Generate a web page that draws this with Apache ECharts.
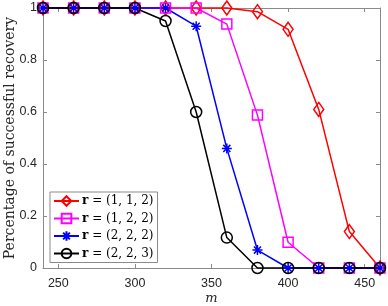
<!DOCTYPE html>
<html><head><meta charset="utf-8">
<script src="https://cdn.jsdelivr.net/npm/echarts@6/dist/echarts.min.js"></script>
<style>html,body{margin:0;padding:0;background:#fff}#c{width:388px;height:306px}</style>
</head><body><div id="c"></div>
<script>
const mValues = [240, 260, 280, 300, 320, 340, 360, 380, 400, 420, 440, 460];
const seriesNames = ['(1, 1, 2)', '(1, 2, 2)', '(2, 2, 2)', '(2, 2, 3)'];
const r112 = [1, 1, 1, 1, 1, 1, 1, 0.986, 0.918, 0.61, 0.14, 0];
const r122 = [1, 1, 1, 1, 1, 1, 0.938, 0.588, 0.099, 0, 0, 0];
const r222 = [1, 1, 1, 1, 1, 0.93, 0.46, 0.069, 0, 0, 0, 0];
const r223 = [1, 1, 1, 1, 0.95, 0.6, 0.117, 0, 0, 0, 0, 0];
const xTicks = [250, 300, 350, 400, 450];
const yTicks = [0, 0.2, 0.4, 0.6, 0.8, 1];
const xLabel = 'm';
const yLabel = 'Percentage of successful recovery';

const colors = ['#ff0000', '#ff00ff', '#0000ff', '#000000'];
const symbols = ['diamond', 'rect', 'path://M0,-10L0,10M-10,0L10,0M-7.07,-7.07L7.07,7.07M-7.07,7.07L7.07,-7.07', 'circle'];
const sizes = [[10, 14], 10, 10, 11];
const allData = [r112, r122, r222, r223];

const axisColor = '#8a8a8a';
const chart = echarts.init(document.getElementById('c'));
chart.setOption({
  animation: false,
  backgroundColor: '#fff',
  grid: {left: 43, right: 8, top: 8, bottom: 38, containLabel: false, outerBoundsMode: 'none'},
  legend: {
    left: 50, top: 192, orient: 'vertical',
    itemWidth: 25, itemHeight: 12, itemGap: 5.5,
    padding: [3, 4, 3, 3],
    borderColor: '#8a8a8a', borderWidth: 1, backgroundColor: '#fff',
    data: seriesNames,
    formatter: n => '{b|r} = ' + n,
    textStyle: {fontFamily: 'DejaVu Serif', fontSize: 12, color: '#000', padding: [0,0,0,-2],
      rich: {b: {fontFamily: 'DejaVu Serif', fontWeight: 'bold', fontSize: 12, color: '#000'}}}
  },
  xAxis: [{
    type: 'value', min: 240, max: 460,
    name: xLabel, nameLocation: 'middle', nameGap: 24, nameMoveOverlap: false,
    nameTextStyle: {fontFamily: 'DejaVu Serif', fontStyle: 'italic', fontSize: 13, color: '#262626'},
    axisLine: {show: true, onZero: false, lineStyle: {color: axisColor, width: 1}},
    axisTick: {show: true, inside: true, length: 4, customValues: xTicks, lineStyle: {color: axisColor}},
    axisLabel: {customValues: xTicks, fontFamily: 'Liberation Sans', fontSize: 12.5, color: '#262626', margin: 9},
    splitLine: {show: false}
  }, {
    type: 'value', min: 240, max: 460, position: 'top',
    axisLine: {show: true, onZero: false, lineStyle: {color: axisColor, width: 1}},
    axisTick: {show: true, inside: true, length: 4, customValues: xTicks, lineStyle: {color: axisColor}},
    axisLabel: {show: false}, splitLine: {show: false}
  }],
  yAxis: [{
    type: 'value', min: 0, max: 1, interval: 0.2,
    name: yLabel, nameLocation: 'middle', nameGap: 26, nameMoveOverlap: false,
    nameTextStyle: {fontFamily: 'DejaVu Serif', fontSize: 14, color: '#262626'},
    axisLine: {show: true, onZero: false, lineStyle: {color: axisColor, width: 1}},
    axisTick: {show: true, inside: true, length: 4, lineStyle: {color: axisColor}},
    axisLabel: {fontFamily: 'Liberation Sans', fontSize: 12.5, color: '#262626', margin: 6,
      formatter: v => (v === 0 || v === 1) ? String(v) : v.toFixed(1)},
    splitLine: {show: false}
  }, {
    type: 'value', min: 0, max: 1, interval: 0.2, position: 'right',
    axisLine: {show: true, onZero: false, lineStyle: {color: axisColor, width: 1}},
    axisTick: {show: true, inside: true, length: 4, lineStyle: {color: axisColor}},
    axisLabel: {show: false}, splitLine: {show: false}
  }],
  series: seriesNames.map((n, i) => ({
    name: n, type: 'line', clip: false,
    data: mValues.map((m, j) => [m, allData[i][j]]),
    symbol: symbols[i], symbolSize: sizes[i], showAllSymbol: true,
    lineStyle: {color: colors[i], width: 1.5},
    itemStyle: {color: 'rgba(0,0,0,0)', borderColor: colors[i], borderWidth: 1.5},
    emphasis: {disabled: true}
  }))
});
</script></body></html>
